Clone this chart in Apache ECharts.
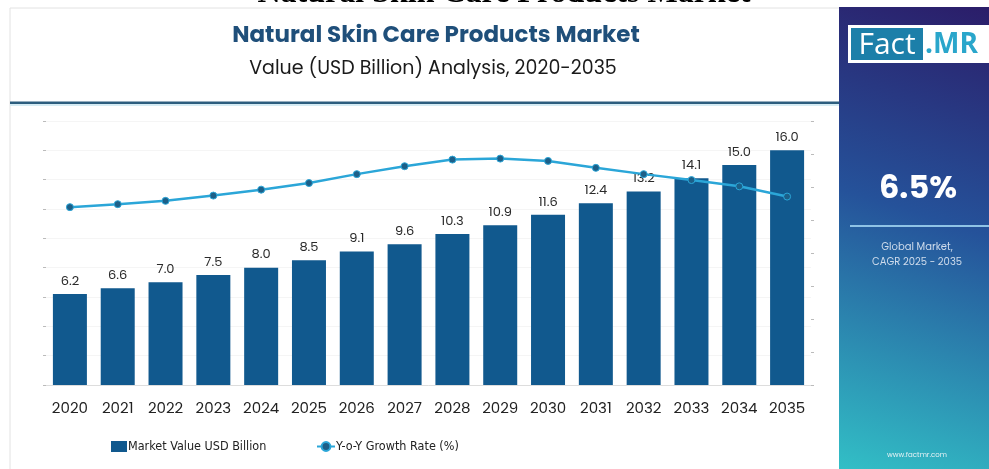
<!DOCTYPE html>
<html>
<head>
<meta charset="utf-8">
<script src="https://cdn.jsdelivr.net/npm/echarts@6/dist/echarts.min.js"></script>
<style>
html,body{margin:0;padding:0;background:#fff;}
#chart{width:989px;height:469px;}
</style>
</head>
<body>
<div id="chart"></div>
<script>
const years = ['2020','2021','2022','2023','2024','2025','2026','2027','2028','2029','2030','2031','2032','2033','2034','2035'];
const marketValue = [6.2, 6.6, 7.0, 7.5, 8.0, 8.5, 9.1, 9.6, 10.3, 10.9, 11.6, 12.4, 13.2, 14.1, 15.0, 16.0];
const growthRate = [5.39, 5.48, 5.58, 5.74, 5.92, 6.12, 6.39, 6.63, 6.83, 6.86, 6.79, 6.58, 6.39, 6.21, 6.02, 5.71];
const titleText = 'Natural Skin Care Products Market';
const subtitleText = 'Value (USD Billion) Analysis, 2020-2035';
const cagrText = '6.5%';
const cagrLabel = 'Global Market,\nCAGR 2025 - 2035';
const seriesNames = ['Market Value USD Billion', 'Y-o-Y Growth Rate (%)'];

const FONT = 'Poppins, "Open Sans", Lato, sans-serif';
const NARROW = '"Liberation Sans Narrow", "DejaVu Sans Condensed", "Liberation Sans", sans-serif';
const legendText = { fontFamily: NARROW, fontSize: 12.5, color: '#222', padding: [0, 0, 0, -4] };
const chart = echarts.init(document.getElementById('chart'));
chart.setOption({
  backgroundColor: '#ffffff',
  animation: false,
  textStyle: { fontFamily: FONT },
  title: [
    { text: titleText, left: 431, top: 20, textAlign: 'center',
      textStyle: { fontFamily: FONT, fontSize: 23, fontWeight: 'bold', color: '#1f4f7a' } },
    { text: subtitleText, left: 428, top: 55, textAlign: 'center',
      textStyle: { fontFamily: FONT, fontSize: 19, fontWeight: 'normal', color: '#1a1a1a' } }
  ],
  graphic: [
    { type: 'text', z: -1, style: { x: 504, y: 10, text: titleText, textAlign: 'center', textVerticalAlign: 'bottom', fontFamily: '"Liberation Serif", "DejaVu Serif", serif', fontSize: 32, fontWeight: 'bold', fill: '#000' } },
    { type: 'rect', z: -5, shape: { x: 0, y: 8, width: 989, height: 470 }, style: { fill: '#fff' } },
    { type: 'rect', z: -4, shape: { x: 10, y: 8, width: 830, height: 470 }, style: { fill: '#fff', stroke: '#e2e2e2', lineWidth: 1 } },
    { type: 'rect', z: -3, shape: { x: 10, y: 101.5, width: 830, height: 2.5 }, style: { fill: '#2c5d7e' } },
    { type: 'rect', z: -3, shape: { x: 10, y: 104, width: 830, height: 2 }, style: { fill: '#d5ebf3' } },
    { type: 'rect', z: 10, shape: { x: 839, y: 7, width: 150, height: 462 },
      style: { fill: new echarts.graphic.LinearGradient(1, 0, 0, 1, [
        { offset: 0, color: '#2b1d69' }, { offset: 0.45, color: '#25529a' }, { offset: 1, color: '#32bfc6' }]) } },
    { type: 'rect', z: 11, shape: { x: 848, y: 25, width: 150, height: 38 }, style: { fill: '#ffffff' } },
    { type: 'rect', z: 12, shape: { x: 851, y: 28, width: 72, height: 32 }, style: { fill: '#1c7fa9' } },
    { type: 'text', z: 13, style: { x: 887, y: 45, text: 'Fact', textAlign: 'center', textVerticalAlign: 'middle', fontFamily: '"Open Sans", sans-serif', fontSize: 30, fill: '#ffffff' } },
    { type: 'text', z: 13, style: { x: 925, y: 45, text: '.MR', textAlign: 'left', textVerticalAlign: 'middle', fontFamily: '"Open Sans", sans-serif', fontSize: 28, fontWeight: 'bold', fill: '#2aa6cb' } },
    { type: 'text', z: 13, style: { x: 918, y: 190, text: cagrText, textAlign: 'center', textVerticalAlign: 'middle', fontFamily: FONT, fontSize: 32, fontWeight: 'bold', fill: '#ffffff' } },
    { type: 'rect', z: 13, shape: { x: 850, y: 225, width: 139, height: 2 }, style: { fill: '#8fc3e6' } },
    { type: 'text', z: 13, style: { x: 917, y: 255, text: cagrLabel, textAlign: 'center', textVerticalAlign: 'middle', fontFamily: FONT, fontSize: 10, lineHeight: 15, fill: '#cfdcec' } },
    { type: 'text', z: 13, style: { x: 917, y: 455, text: 'www.factmr.com', textAlign: 'center', textVerticalAlign: 'middle', fontFamily: FONT, fontSize: 7, fill: '#e3f1f4' } }
  ],
  legend: [
    { left: 106, top: 435, itemWidth: 16, itemHeight: 11, textStyle: legendText,
      data: [{ name: seriesNames[0], icon: 'rect' }] },
    { left: 311, top: 435, itemWidth: 18, itemHeight: 11, textStyle: legendText,
      data: [{ name: seriesNames[1] }] }
  ],
  grid: { left: 46, right: 178, top: 121, bottom: 84 },
  xAxis: {
    type: 'category', data: years,
    axisLine: { lineStyle: { color: '#dddddd' } },
    axisTick: { show: false },
    axisLabel: { fontFamily: FONT, fontSize: 15, color: '#222', margin: 17 }
  },
  yAxis: [
    { type: 'value', min: 0, max: 18, interval: 2,
      axisLine: { show: false },
      axisTick: { show: true, length: 3, lineStyle: { color: '#bbb' } },
      axisLabel: { show: false },
      splitLine: { show: true, lineStyle: { color: '#f5f5f5' } } },
    { type: 'value', min: 0, max: 8, interval: 1, position: 'right',
      axisLine: { show: false },
      axisTick: { show: true, length: 3, lineStyle: { color: '#bbb' } },
      axisLabel: { show: false },
      splitLine: { show: false } }
  ],
  series: [
    { name: seriesNames[0], type: 'bar', data: marketValue, barWidth: 34, yAxisIndex: 0,
      itemStyle: { color: '#11598e' },
      label: { show: true, position: 'top', distance: 6, fontFamily: FONT, fontSize: 13, color: '#2a2a2a',
        formatter: p => p.value.toFixed(1) } },
    { name: seriesNames[1], type: 'line', data: growthRate, yAxisIndex: 1, z: 5,
      symbol: 'circle', symbolSize: 7,
      lineStyle: { color: '#2ba6d8', width: 2.5 },
      itemStyle: { color: '#1c5f88', borderColor: '#2ba6d8', borderWidth: 1 } }
  ]
});
</script>
</body>
</html>
